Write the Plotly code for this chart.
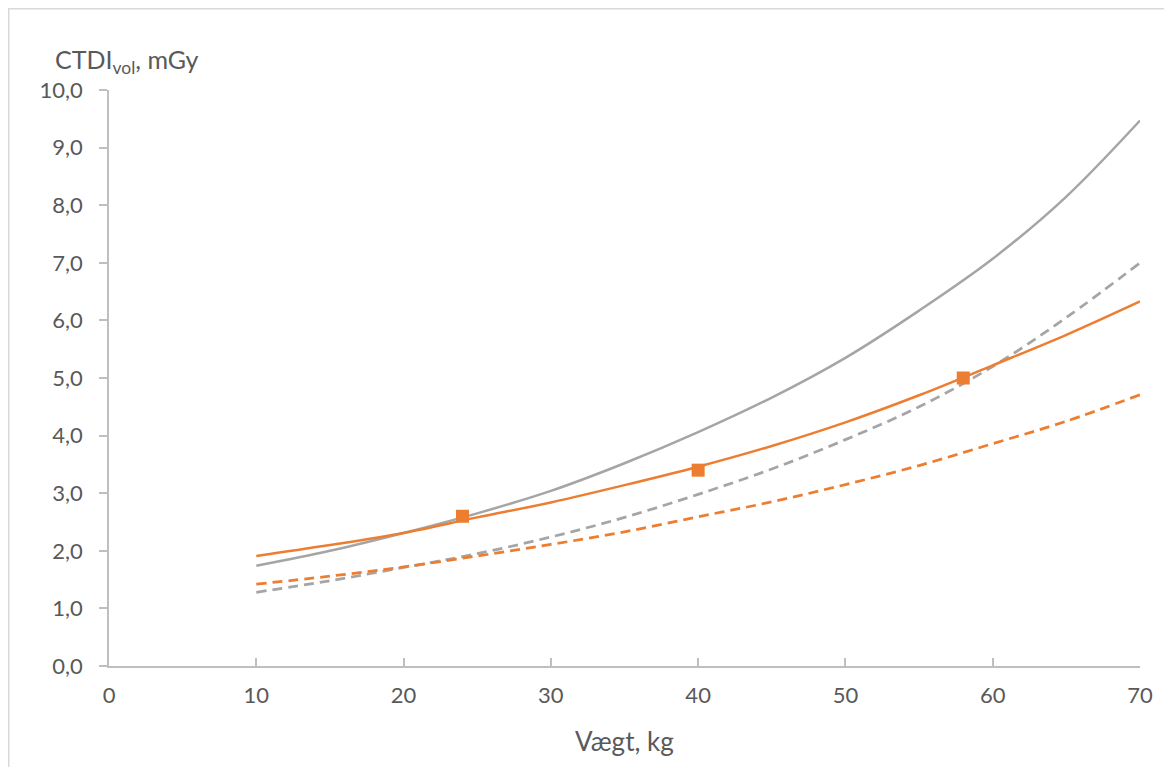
import plotly.graph_objects as go

weight = [10, 15, 20, 25, 30, 35, 40, 45, 50, 55, 60, 65, 70]
gray_solid = [1.74, 2.00, 2.31, 2.65, 3.04, 3.52, 4.06, 4.66, 5.35, 6.17, 7.07, 8.15, 9.47]
orange_solid = [1.91, 2.10, 2.31, 2.58, 2.84, 3.14, 3.46, 3.82, 4.23, 4.70, 5.22, 5.75, 6.33]
gray_dashed = [1.28, 1.48, 1.71, 1.95, 2.24, 2.58, 2.98, 3.42, 3.93, 4.50, 5.20, 6.05, 7.00]
orange_dashed = [1.42, 1.56, 1.72, 1.91, 2.11, 2.33, 2.59, 2.85, 3.15, 3.48, 3.86, 4.25, 4.71]
marker_x = [24, 40, 58]
marker_y = [2.6, 3.4, 5.0]

x_ticks = [0, 10, 20, 30, 40, 50, 60, 70]
y_ticks = [0, 1, 2, 3, 4, 5, 6, 7, 8, 9, 10]

GRAY = "#A5A5A5"
ORANGE = "#ED7D31"
TEXT = "#595959"
AXIS = "#BFBFBF"
FONT = "Lato, Open Sans, sans-serif"

# page body has an 8px margin; figure is sized so the plot lands at the reference position
W, H = 1164, 759
ML, MT, MR, MB = 101, 82, 32, 101
PW, PH = W - ML - MR, H - MT - MB

fig = go.Figure()
fig.add_trace(go.Scatter(x=weight, y=gray_solid, mode="lines", line=dict(color=GRAY, width=2.5, shape="spline"), showlegend=False))
fig.add_trace(go.Scatter(x=weight, y=gray_dashed, mode="lines", line=dict(color=GRAY, width=2.75, dash="10px,6px", shape="spline"), showlegend=False))
fig.add_trace(go.Scatter(x=weight, y=orange_dashed, mode="lines", line=dict(color=ORANGE, width=2.75, dash="10px,6px", shape="spline"), showlegend=False))
fig.add_trace(go.Scatter(x=weight, y=orange_solid, mode="lines", line=dict(color=ORANGE, width=2.5, shape="spline"), showlegend=False))
fig.add_trace(go.Scatter(x=marker_x, y=marker_y, mode="markers", marker=dict(symbol="square", size=13, color=ORANGE), showlegend=False))

fig.update_layout(
    width=W, height=H,
    margin=dict(l=ML, r=MR, t=MT, b=MB),
    paper_bgcolor="white", plot_bgcolor="white",
    separators=",.",
    font=dict(family=FONT, color=TEXT, size=22),
    xaxis=dict(range=[0, 70], tickvals=x_ticks, showgrid=False, zeroline=False,
               showline=True, linecolor=AXIS, linewidth=1.5,
               ticks="inside", ticklen=8, tickcolor=AXIS, tickwidth=1.5,
               tickfont=dict(size=22, color=TEXT), ticklabelstandoff=9),
    yaxis=dict(range=[0, 10], tickvals=y_ticks, tickformat=".1f", showgrid=False, zeroline=False,
               showline=True, linecolor=AXIS, linewidth=1.5,
               ticks="outside", ticklen=8, tickcolor=AXIS, tickwidth=1.5,
               tickfont=dict(size=22, color=TEXT), ticklabelstandoff=12),
    shapes=[dict(type="rect", xref="paper", yref="paper",
                 x0=(0.75 - ML) / PW, x1=1.2, y0=-0.4, y1=1 + (MT - 0.75) / PH,
                 line=dict(color="#D9D9D9", width=1.5), fillcolor="rgba(0,0,0,0)", layer="below")],
    annotations=[
        dict(text="CTDI<sub>vol</sub>, mGy", xref="paper", yref="paper", x=(53 - 109) / PW, y=(666 - 61) / PH,
             xanchor="left", yanchor="middle", showarrow=False, font=dict(size=25, color=TEXT)),
        dict(text="Vægt, kg", xref="paper", yref="paper", x=0.5, y=(666 - 741) / PH,
             xanchor="center", yanchor="middle", showarrow=False, font=dict(size=26, color=TEXT)),
    ],
)

fig.write_html("out.html")
